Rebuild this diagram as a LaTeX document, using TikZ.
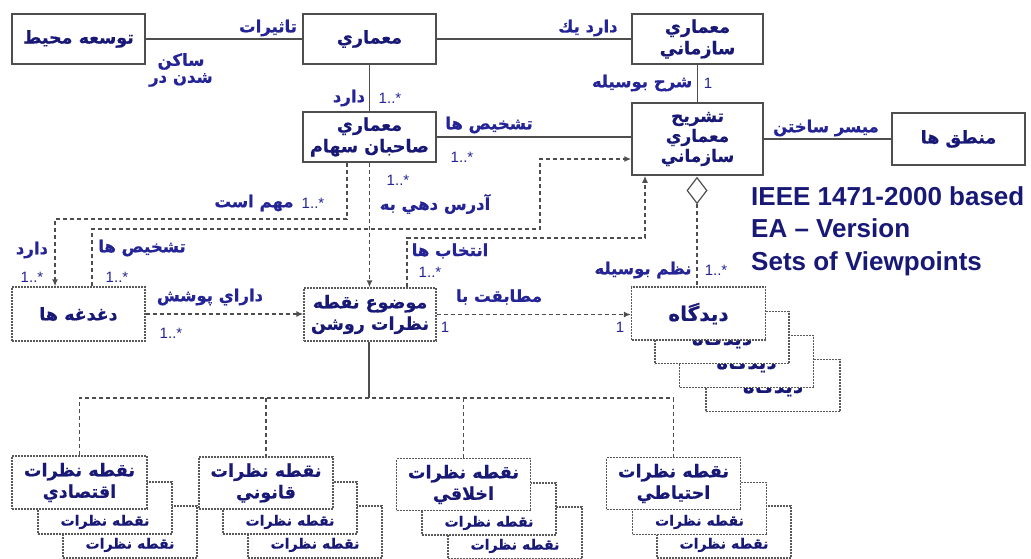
\documentclass[tikz,border=0pt]{standalone}
\usepackage{fontspec}
\setmainfont{Liberation Sans}
\newfontfamily\arabicfont[Script=Arabic, BoldFont={DejaVu Sans Bold}, BoldFeatures={FakeBold=0.6}]{DejaVu Sans}
\TeXXeTstate=1
\usetikzlibrary{arrows.meta,shapes.geometric}
\definecolor{txt}{RGB}{24,24,118}
\definecolor{lab}{RGB}{36,36,150}
\definecolor{ln}{RGB}{78,78,78}
\newcommand{\fa}[1]{{\arabicfont\beginR #1\endR}}
\begin{document}
\begin{tikzpicture}[x=1pt,y=-1pt,
  box/.style={draw=ln, line width=1.5pt, fill=white, minimum width=133pt, minimum height=50pt,
    inner sep=1pt, align=center, text=txt, font=\bfseries\fontsize{17.5}{21.5}\selectfont},
  dbox/.style={box, draw=gray!70!black, line width=1.3pt, dash pattern=on 2pt off 1pt},
  sbox/.style={dbox, minimum width=134pt, minimum height=52pt},
  vpbox/.style={sbox, font=\bfseries\fontsize{20}{22}\selectfont},
  backtxt/.style={text=txt, inner sep=0pt, font=\bfseries\fontsize{14}{16}\selectfont},
  conn/.style={draw=ln, line width=1.5pt},
  dl/.style={draw=ln, line width=1.4pt, dash pattern=on 4pt off 3pt},
  arr/.style={-{Latex[length=7pt,width=6pt]}},
  lbl/.style={text=lab, inner sep=0pt, align=center, font=\bfseries\fontsize{16.5}{17}\selectfont},
  mult/.style={text=lab, inner sep=0pt, font=\fontsize{15}{17}\selectfont}]
\useasboundingbox (0,0) rectangle (1031,559);

% ---- top solid boxes
\node[box] (env) at (78.5,39) {\fa{توسعه محيط}};
\node[box] (arch) at (369.5,39) {\fa{معماري}};
\node[box, minimum width=131pt] (ea) at (697.5,39) {\fa{معماري}\\\fa{سازماني}};
\node[box] (sh) at (369.5,137) {\fa{معماري}\\\fa{صاحبان سهام}};
\node[box, minimum width=131pt, minimum height=72pt, inner sep=0pt,
  font=\bfseries\fontsize{17}{20}\selectfont] (ad) at (697.5,139) {\fa{تشريح}\\\fa{معماري}\\\fa{سازماني}};
\node[box, minimum height=52pt] (rat) at (958.5,139) {\fa{منطق ها}};

% ---- middle dotted boxes
\node[dbox, minimum height=54pt] (con) at (78.5,314) {\fa{دغدغه ها}};
\node[dbox, minimum width=132pt, minimum height=53pt] (mod) at (370,314.5) {\fa{موضوع نقطه}\\\fa{نظرات روشن}};
\node[vpbox] (vp4) at (773,385.5) {\fa{ديدگاه}};
\node[vpbox] (vp3) at (746.5,361.5) {\fa{ديدگاه}};
\node[vpbox] (vp2) at (722,337.5) {\fa{ديدگاه}};
\node[vpbox, minimum height=53pt] (vp) at (698.5,313.5) {\fa{ديدگاه}};

% ---- aggregation diamond
\node[diamond, draw=ln, line width=1.2pt, fill=white, minimum width=20pt, minimum height=26pt, inner sep=0pt] (dia) at (697,190.5) {};

% ---- bottom viewpoint stacks
\node[sbox] (econ3) at (130,532) {}; \node[backtxt] (econ3t) at (130,545) {\fa{نقطه نظرات}};
\node[sbox] (econ2) at (105,508) {}; \node[backtxt] (econ2t) at (105,522) {\fa{نقطه نظرات}};
\node[sbox, minimum width=135pt, minimum height=53pt] (econ) at (79.5,482.5) {\fa{نقطه نظرات}\\\fa{اقتصادي}};

\node[sbox] (leg3) at (315,532) {}; \node[backtxt] (leg3t) at (315,545) {\fa{نقطه نظرات}};
\node[sbox] (leg2) at (290,508) {}; \node[backtxt] (leg2t) at (290,522) {\fa{نقطه نظرات}};
\node[sbox] (leg) at (266,483) {\fa{نقطه نظرات}\\\fa{قانوني}};

\node[sbox] (eth3) at (515,533) {}; \node[backtxt] (eth3t) at (515,546) {\fa{نقطه نظرات}};
\node[sbox] (eth2) at (489,509) {}; \node[backtxt] (eth2t) at (489,523) {\fa{نقطه نظرات}};
\node[sbox] (eth) at (463.5,484.5) {\fa{نقطه نظرات}\\\fa{اخلاقي}};

\node[sbox] (pre3) at (724,532) {}; \node[backtxt] (pre3t) at (724,545) {\fa{نقطه نظرات}};
\node[sbox] (pre2) at (699.5,508.5) {}; \node[backtxt] (pre2t) at (699.5,522) {\fa{نقطه نظرات}};
\node[sbox] (pre) at (673.5,483.5) {\fa{نقطه نظرات}\\\fa{احتياطي}};

% ---- solid connectors
\draw[conn] (env.east) -- (arch.west);
\draw[conn] (arch.east) -- (ea.west);
\draw[conn] (arch.south) -- (sh.north);
\draw[conn] (ea.south) -- (ea.south |- ad.north);
\draw[conn] (sh.east) -- (sh.east -| ad.west);
\draw[conn] (ad.east) -- (ad.east -| rat.west);
\coordinate (bus) at (369,398);
\draw[conn] (mod.south -| bus) -- (bus);

% ---- dashed connectors
\coordinate (k1) at (347,219); \coordinate (k2) at (55,219);
\draw[dl,arr] (sh.south -| k1) -- (k1) -- (k2) -- (k2 |- con.north);
\coordinate (k3) at (92,229); \coordinate (k4) at (540,229); \coordinate (k5) at (540,159);
\draw[dl,arr] (con.north -| k3) -- (k3) -- (k4) -- (k5) -- (k5 -| ad.west);
\draw[dl,arr] (sh.south) -- (sh.south |- mod.north);
\coordinate (k6) at (407,238); \coordinate (k7) at (645,238);
\draw[dl,arr] (mod.north -| k6) -- (k6) -- (k7) -- (k7 |- ad.south);
\draw[dl,arr] (con.east) -- (con.east -| mod.west);
\draw[dl,arr] (mod.east) -- (mod.east -| vp.west);
\draw[dl] (dia.south) -- (dia.south |- vp.north);
\draw[dl] (econ.north) -- (econ.north |- bus) -- (pre.north |- bus) -- (pre.north);
\draw[dl] (leg.north |- bus) -- (leg.north);
\draw[dl] (eth.north |- bus) -- (eth.north);

% ---- labels
\node[lbl] (l1) at (268,28) {\fa{تاثيرات}};
\node[lbl] (l2) at (181,70) {\fa{ساكن}\\\fa{شدن در}};
\node[lbl] (l3) at (588,28) {\fa{دارد يك}};
\node[lbl] (l4) at (642,83) {\fa{شرح بوسيله}};
\node[mult] (m4) at (708,83) {1};
\node[lbl] (l5) at (349,98) {\fa{دارد}};
\node[mult] (m5) at (390,98) {1..*};
\node[lbl] (l6) at (489,125) {\fa{تشخيص ها}};
\node[mult] (m6) at (462,157) {1..*};
\node[lbl] (l7) at (826,128) {\fa{ميسر ساختن}};
\node[lbl] (l8) at (643,270) {\fa{نظم بوسيله}};
\node[mult] (m8) at (716,270) {1..*};
\node[lbl] (l9) at (254,203) {\fa{مهم است}};
\node[mult] (m9) at (313,203) {1..*};
\node[lbl] (l10) at (142,248) {\fa{تشخيص ها}};
\node[mult] (m10) at (117,277) {1..*};
\node[lbl] (l11) at (32,250) {\fa{دارد}};
\node[mult] (m11) at (32,277) {1..*};
\node[mult] (m12) at (398,180) {1..*};
\node[lbl] (l12) at (435,204) {\fa{آدرس دهي به}};
\node[lbl] (l13) at (450,251) {\fa{انتخاب ها}};
\node[mult] (m13) at (430,272) {1..*};
\node[lbl] (l14) at (210,297) {\fa{داراي پوشش}};
\node[mult] (m14) at (171,333) {1..*};
\node[lbl] (l15) at (499,297) {\fa{مطابقت با}};
\node[mult] (m15a) at (445,327) {1};
\node[mult] (m15b) at (620,327) {1};

\node[anchor=north west, align=left, text=txt, inner sep=0pt,
  font=\bfseries\fontsize{26}{32.5}\selectfont] (ieee) at (751,186)
  {IEEE 1471-2000 based\\EA – Version\\Sets of Viewpoints};
\end{tikzpicture}
\end{document}
